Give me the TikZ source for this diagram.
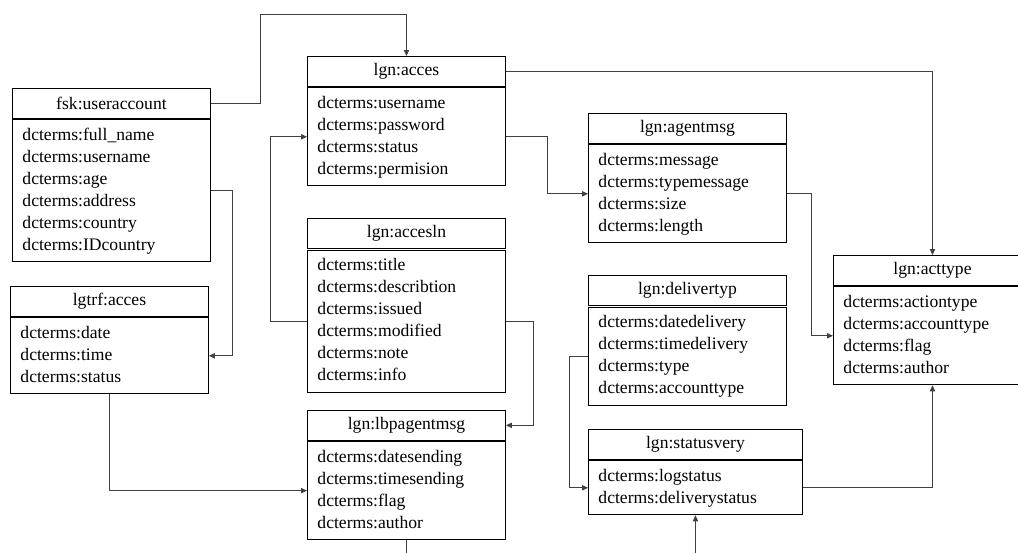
\documentclass[tikz,border=0pt]{standalone}
\usepackage{fontspec}
\setmainfont{Liberation Serif}
\usetikzlibrary{positioning,arrows.meta}
\tikzset{
    schemahead/.style={draw, rectangle, line width=0.7pt, align=center, minimum width=148.5pt, minimum height=22.5pt, inner sep=0pt, font=\fontsize{13.2}{16.5}\selectfont},
    schemabody/.style={draw, rectangle, line width=0.7pt, align=left, text width=133.5pt, inner xsep=7.5pt, inner ysep=3.75pt, font=\fontsize{13.2}{16.5}\selectfont, execute at begin node=\strut, execute at end node=\strut},
    schemaarrow/.style={draw, -{Triangle[length=4.5pt,width=4pt]}, line width=0.6pt, black!75},
    schemaline/.style={draw, line width=0.6pt, black!75}
}
\begin{document}
\begin{tikzpicture}[x=0.75pt, y=-0.75pt]
    \useasboundingbox (0,0) rectangle (1018,553);

    % left column
    \node[schemahead, anchor=north west] (useraccount) at (12,88) {fsk:useraccount};
    \node[schemabody, below=0.3pt of useraccount] (useraccountfields) {dcterms:full\_name\\dcterms:username\\dcterms:age\\dcterms:address\\dcterms:country\\dcterms:IDcountry};
    \node[schemahead, anchor=north west] (lgtrf) at (10,286) {lgtrf:acces};
    \node[schemabody, below=0.3pt of lgtrf] (lgtrffields) {dcterms:date\\dcterms:time\\dcterms:status};

    % middle column
    \node[schemahead, anchor=north west] (acces) at (307,56) {lgn:acces};
    \node[schemabody, below=0.3pt of acces] (accesfields) {dcterms:username\\dcterms:password\\dcterms:status\\dcterms:permision};
    \node[schemahead, below=24pt of accesfields] (accesln) {lgn:accesln};
    \node[schemabody, below=0.3pt of accesln] (acceslnfields) {dcterms:title\\dcterms:describtion\\dcterms:issued\\dcterms:modified\\dcterms:note\\dcterms:info};
    \node[schemahead, below=13pt of acceslnfields] (lbpagentmsg) {lgn:lbpagentmsg};
    \node[schemabody, below=0.3pt of lbpagentmsg] (lbpagentmsgfields) {dcterms:datesending\\dcterms:timesending\\dcterms:flag\\dcterms:author};

    % right column
    \node[schemahead, anchor=north west] (agentmsg) at (588,113) {lgn:agentmsg};
    \node[schemabody, below=0.3pt of agentmsg] (agentmsgfields) {dcterms:message\\dcterms:typemessage\\dcterms:size\\dcterms:length};
    \node[schemahead, below=24pt of agentmsgfields] (delivertyp) {lgn:delivertyp};
    \node[schemabody, below=0.3pt of delivertyp] (delivertypfields) {dcterms:datedelivery\\dcterms:timedelivery\\dcterms:type\\dcterms:accounttype};
    \node[schemahead, minimum width=160.5pt, anchor=north west] (statusvery) at (588,429) {lgn:statusvery};
    \node[schemabody, text width=145.5pt, below=0.3pt of statusvery] (statusveryfields) {dcterms:logstatus\\dcterms:deliverystatus};
    \node[schemahead, anchor=north west] (acttype) at (833,255) {lgn:acttype};
    \node[schemabody, below=0.3pt of acttype] (acttypefields) {dcterms:actiontype\\dcterms:accounttype\\dcterms:flag\\dcterms:author};

    \coordinate (lbpout) at ([yshift=-15pt]lbpagentmsgfields.south);
    \coordinate (statusin) at ([yshift=-35pt]statusveryfields.south);

    \draw[schemaarrow] (useraccount.east) -- ++(49,0) |- ([yshift=31.5pt]acces.north) -- (acces.north);
    \draw[schemaarrow] (useraccountfields.east) -- ++(21,0) |- (lgtrffields.east);
    \draw[schemaarrow] (acces.east) -| (acttype.north);
    \draw[schemaarrow] (accesfields.east) -- ++(41,0) |- (agentmsgfields.west);
    \draw[schemaarrow] (acceslnfields.west) -- ++(-37,0) |- (accesfields.west);
    \draw[schemaarrow] (acceslnfields.east) -- ++(27,0) |- (lbpagentmsg.east);
    \draw[schemaarrow] (lgtrffields.south) |- (lbpagentmsgfields.west);
    \draw[schemaline] (lbpagentmsgfields.south) -- (lbpout);
    \draw[schemaarrow] (agentmsgfields.east) -- ++(24,0) |- (acttypefields.west);
    \draw[schemaarrow] (delivertypfields.west) -- ++(-19,0) |- (statusveryfields.west);
    \draw[schemaarrow] (statusveryfields.east) -| (acttypefields.south);
    \draw[schemaarrow] (statusin) -- (statusveryfields.south);
\end{tikzpicture}
\end{document}
